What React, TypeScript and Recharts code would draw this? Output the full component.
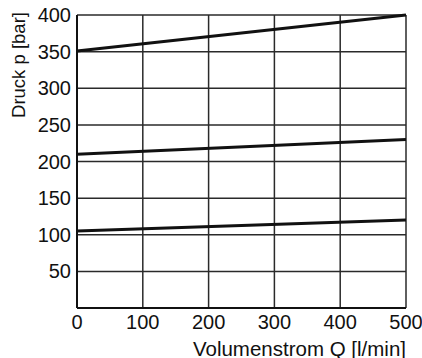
import { LineChart, Line, XAxis, YAxis, CartesianGrid } from "recharts";

const flow = [0, 500];
const lowSetting = [105, 120];
const midSetting = [210, 230];
const highSetting = [351, 400];

const xTicks = [0, 100, 200, 300, 400, 500];
const yTicks = [50, 100, 150, 200, 250, 300, 350, 400];

const chartData = flow.map((q, i) => ({
  q,
  low: lowSetting[i],
  mid: midSetting[i],
  high: highSetting[i],
}));

const FONT = "'Liberation Sans', Arial, Helvetica, sans-serif";

export default function App() {
  return (
    <div style={{ position: "absolute", left: 0, top: 0, fontFamily: FONT }}>
      <LineChart
        width={422}
        height={358}
        data={chartData}
        margin={{ top: 15, right: 16, bottom: 0, left: 0 }}
      >
        <CartesianGrid
          stroke="#2a2a2a"
          strokeWidth={1.5}
          horizontalValues={yTicks}
          verticalValues={xTicks}
        />
        <XAxis
          dataKey="q"
          type="number"
          domain={[0, 500]}
          ticks={xTicks}
          height={50}
          tickLine={false}
          tickSize={6}
          tickMargin={1}
          axisLine={{ stroke: "#111", strokeWidth: 2 }}
          tick={{ fill: "#111", fontSize: 20, fontFamily: FONT }}
          label={{
            content: () => (
              <text
                x={406}
                y={355.5}
                textAnchor="end"
                fill="#111"
                fontSize={20.5}
                fontFamily={FONT}
              >
                Volumenstrom Q [l/min]
              </text>
            ),
          }}
        />
        <YAxis
          type="number"
          domain={[0, 400]}
          ticks={yTicks}
          width={77}
          tickLine={false}
          tickSize={6}
          tickMargin={0}
          axisLine={{ stroke: "#111", strokeWidth: 2 }}
          tick={{ fill: "#111", fontSize: 20, fontFamily: FONT }}
          label={{
            content: () => (
              <text
                x={25}
                y={65}
                transform="rotate(-90 25 65)"
                textAnchor="middle"
                fill="#111"
                fontSize={18.5}
                fontFamily={FONT}
              >
                Druck p [bar]
              </text>
            ),
          }}
        />
        <Line
          dataKey="low"
          stroke="#111"
          strokeWidth={3}
          dot={false}
          isAnimationActive={false}
        />
        <Line
          dataKey="mid"
          stroke="#111"
          strokeWidth={3}
          dot={false}
          isAnimationActive={false}
        />
        <Line
          dataKey="high"
          stroke="#111"
          strokeWidth={3}
          dot={false}
          isAnimationActive={false}
        />
      </LineChart>
    </div>
  );
}
